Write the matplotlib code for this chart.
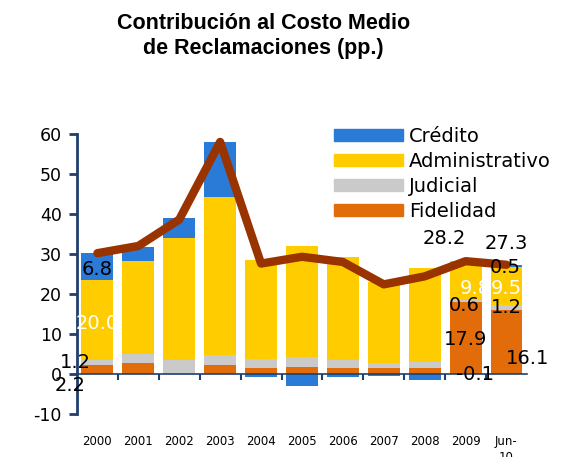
import numpy as np
import matplotlib
matplotlib.use('Agg')
import matplotlib.pyplot as plt
from matplotlib.patches import Patch
from matplotlib.transforms import blended_transform_factory

anios = ['2000', '2001', '2002', '2003', '2004', '2005', '2006', '2007', '2008', '2009', 'Jun-\n10']
fidelidad = [2.2, 2.8, 0.0, 2.2, 1.5, 1.7, 1.5, 1.5, 1.5, 17.9, 16.1]
judicial = [1.2, 2.1, 3.5, 2.5, 2.3, 2.6, 1.9, 1.2, 1.5, 0.6, 1.2]
administrativo = [20.0, 23.3, 30.6, 39.6, 24.8, 27.8, 25.8, 20.2, 23.5, 9.8, 9.5]
credito = [6.8, 3.5, 4.9, 13.7, -0.8, -3.1, -0.8, -0.5, -1.6, -0.1, 0.5]
total = [30.2, 32.0, 38.6, 58.0, 27.6, 29.3, 28.0, 22.4, 24.4, 28.2, 27.3]

c_cred = '#2A7BD8'
c_adm = '#FFCC00'
c_jud = '#CACACA'
c_fid = '#E36C0A'
c_linea = '#993300'
c_eje = '#1F3F6F'

plt.rcParams['font.family'] = 'DejaVu Sans'
plt.rcParams['axes.unicode_minus'] = False

fig = plt.figure(figsize=(5.66, 4.57), dpi=100)
ax = fig.add_axes([0.136, 0.094, 0.795, 0.613])

x = np.arange(len(anios))
fid = np.array(fidelidad)
jud = np.array(judicial)
adm = np.array(administrativo)
cred = np.array(credito)
w = 0.78

ax.bar(x, fid, w, color=c_fid, zorder=2)
ax.bar(x, jud, w, bottom=fid, color=c_jud, zorder=2)
ax.bar(x, adm, w, bottom=fid + jud, color=c_adm, zorder=2)
base_cred = np.where(cred >= 0, fid + jud + adm, 0)
ax.bar(x, cred, w, bottom=base_cred, color=c_cred, zorder=2)
ax.plot(x, total, color=c_linea, lw=6, solid_joinstyle='round',
        solid_capstyle='round', zorder=4)

# etiquetas de datos (solo 2000, 2009 y Jun-10)
def etiqueta(i, y, txt, dx=0, dy=0, color='black'):
    ax.annotate(txt, (x[i], y), xytext=(dx, dy), textcoords='offset points',
                ha='center', va='center', fontsize=14, color=color, zorder=5)

def fmt(v):
    return '%.1f' % v

# 2000
etiqueta(0, fid[0] + jud[0] + adm[0] + cred[0] / 2, fmt(cred[0]), 0, -2)
etiqueta(0, fid[0] + jud[0] + adm[0] / 2, fmt(adm[0]), 0, -2, 'white')
etiqueta(0, fid[0] + jud[0] / 2, fmt(jud[0]), -16, 0)
etiqueta(0, -2.9, fmt(fid[0]), -20, 0)
# 2009
etiqueta(9, fid[9] / 2, fmt(fid[9]), 0, -1)
etiqueta(9, fid[9] + jud[9] / 2, fmt(jud[9]), -1, -3)
etiqueta(9, fid[9] + jud[9] + adm[9] / 2, fmt(adm[9]), 7, -6, 'white')
etiqueta(9, cred[9], fmt(cred[9]), 7, 0)
etiqueta(9, total[9], fmt(total[9]), -15, 16)
# Jun-10
etiqueta(10, fid[10] / 2, fmt(fid[10]), 15, -12)
etiqueta(10, fid[10] + jud[10] / 2, fmt(jud[10]), 0, 0)
etiqueta(10, fid[10] + jud[10] + adm[10] / 2, fmt(adm[10]), 0, -2, 'white')
etiqueta(10, fid[10] + jud[10] + adm[10] + cred[10] / 2, fmt(cred[10]), -1, -1)
etiqueta(10, total[10], fmt(total[10]), 0, 15)

ax.set_xlim(-0.5, len(anios) - 0.5)
ax.set_ylim(-10, 60)
ax.set_yticks(np.arange(-10, 61, 10))
ax.tick_params(axis='y', labelsize=12.5, length=6, width=2, color=c_eje, pad=5)
ax.set_xticks(x[:-1] + 0.5)
ax.set_xticklabels([])
ax.tick_params(axis='x', length=4, width=1.5, color=c_eje, direction='out')

for s in ['top', 'right']:
    ax.spines[s].set_visible(False)
ax.spines['left'].set_color(c_eje)
ax.spines['left'].set_linewidth(2)
ax.spines['bottom'].set_position(('data', 0))
ax.spines['bottom'].set_color(c_eje)
ax.spines['bottom'].set_linewidth(1.2)
ax.spines['bottom'].set_zorder(3)

trans = blended_transform_factory(ax.transData, ax.transAxes)
for i, a in enumerate(anios):
    ax.text(x[i], -0.075, a, transform=trans, ha='center', va='top', fontsize=8.5,
            linespacing=1.3)

handles = [Patch(color=c_cred, label='Crédito'),
           Patch(color=c_adm, label='Administrativo'),
           Patch(color=c_jud, label='Judicial'),
           Patch(color=c_fid, label='Fidelidad')]
fig.legend(handles=handles, loc='upper left', bbox_to_anchor=(0.59, 0.722),
           frameon=False, fontsize=14, handlelength=3.55, handleheight=0.6,
           labelspacing=0.31, handletextpad=0.3, borderaxespad=0, borderpad=0)

fig.text(0.465, 0.972, 'Contribución al Costo Medio\nde Reclamaciones (pp.)',
         ha='center', va='top', fontsize=15.5, fontweight='bold',
         family='Liberation Sans', linespacing=1.25)

fig.savefig('out.png', dpi=100)
